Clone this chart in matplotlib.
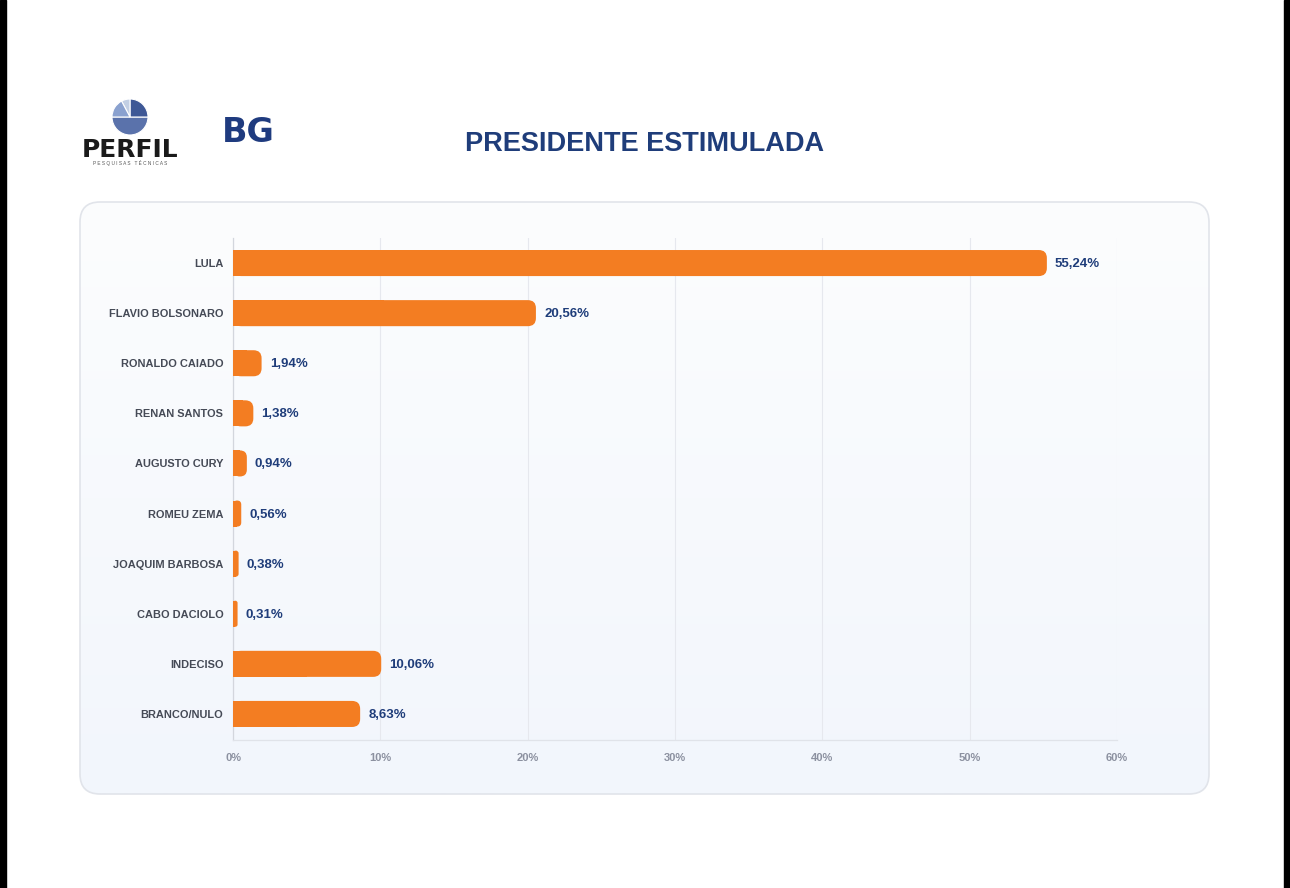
import matplotlib
matplotlib.use('Agg')
import matplotlib.pyplot as plt
from matplotlib.patches import FancyBboxPatch, Wedge, Rectangle
import numpy as np

# data
candidates = ['LULA', 'FLAVIO BOLSONARO', 'RONALDO CAIADO', 'RENAN SANTOS',
              'AUGUSTO CURY', 'ROMEU ZEMA', 'JOAQUIM BARBOSA', 'CABO DACIOLO',
              'INDECISO', 'BRANCO/NULO']
percent = [55.24, 20.56, 1.94, 1.38, 0.94, 0.56, 0.38, 0.31, 10.06, 8.63]
x_ticks = [0, 10, 20, 30, 40, 50, 60]

title = 'PRESIDENTE ESTIMULADA'

ORANGE = '#f37d22'
NAVY = '#1f3d7a'
LABEL_GRAY = '#454a56'
TICK_GRAY = '#8c91a0'

plt.rcParams['font.family'] = ['Liberation Sans', 'DejaVu Sans']

W, H = 1290, 888
fig = plt.figure(figsize=(W / 100, H / 100), dpi=100)
fig.patch.set_facecolor('white')

# background layer in pixel coordinates (y measured from the top)
bg = fig.add_axes([0, 0, 1, 1])
bg.set_xlim(0, W)
bg.set_ylim(0, H)
bg.axis('off')


def Y(py):
    return H - py


# card with soft vertical gradient
card = FancyBboxPatch((80, Y(794)), 1129, 592,
                      boxstyle='round,pad=0,rounding_size=20',
                      facecolor='none', edgecolor='#e1e4ea', linewidth=1.2, zorder=3)
bg.add_patch(card)
grad = np.linspace(0, 1, 256).reshape(-1, 1)
cmap = matplotlib.colors.LinearSegmentedColormap.from_list('card', ['#f2f6fc', '#fcfdfe'])
im = bg.imshow(grad, extent=[80, 1209, Y(794), Y(202)], origin='lower',
               cmap=cmap, aspect='auto', zorder=1)
clip = FancyBboxPatch((80, Y(794)), 1129, 592,
                      boxstyle='round,pad=0,rounding_size=20',
                      facecolor='none', edgecolor='none', transform=bg.transData)
im.set_clip_path(clip)
bg.set_xlim(0, W)
bg.set_ylim(0, H)

# black screen edges
bg.add_patch(Rectangle((0, 0), 6, H, color='black', zorder=5))
bg.add_patch(Rectangle((1284, 0), 6, H, color='black', zorder=5))

# PERFIL logo
cx, cy, r = 130, Y(117), 18
for t1, t2, c in [(180, 360, '#5a72ab'), (0, 90, '#3e5896'),
                  (90, 118, '#c2cfe4'), (118, 180, '#8aa1cf')]:
    bg.add_patch(Wedge((cx, cy), r, t1, t2, facecolor=c, edgecolor='white',
                       linewidth=0.8, zorder=4))
bg.text(130.5, Y(150), 'PERFIL', ha='center', va='center', fontsize=18,
        fontweight='bold', color='#1a1a1a', family='DejaVu Sans', zorder=4)
bg.text(130, Y(162.5), 'P E S Q U I S A S   T É C N I C A S', ha='center', va='center',
        fontsize=3.4, color='#555555', zorder=4)

# BG logo
bg.text(248, Y(132), 'BG', ha='center', va='center', fontsize=24,
        fontweight='bold', color='#1f3b7f', family='DejaVu Sans', zorder=4)

fig.text(645 / W, 1 - 144 / H, title, ha='center', va='center', fontsize=19.5,
         fontweight='bold', color=NAVY)

# main chart
ax = fig.add_axes([233 / W, 1 - 740 / H, (1117 - 233) / W, (740 - 238) / H])
ax.set_facecolor('none')

bar_h = 0.52
pos = np.arange(len(candidates))
for i, v in zip(pos, percent):
    rr = min(0.55, v / 2)
    ax.add_patch(FancyBboxPatch((0, i - bar_h / 2), v, bar_h,
                                boxstyle='round,pad=0,rounding_size=%f' % rr,
                                mutation_aspect=0.29, facecolor=ORANGE,
                                edgecolor='none', zorder=3))
    ax.barh(i, v / 2, height=bar_h, color=ORANGE, linewidth=0, zorder=3)
    ax.text(v + 0.55, i + 0.02, ('%.2f%%' % v).replace('.', ','), va='center', ha='left',
            fontsize=9.5, fontweight='bold', color=NAVY, zorder=4)

ax.set_xlim(0, 60)
ax.set_ylim(len(candidates) - 0.48, -0.5)
ax.set_xticks(x_ticks)
ax.set_xticklabels(['%d%%' % t for t in x_ticks])
ax.set_yticks(pos)
ax.set_yticklabels(candidates)
for lab in ax.get_yticklabels():
    lab.set_fontweight('bold')
for lab in ax.get_xticklabels():
    lab.set_fontweight('semibold')
ax.tick_params(axis='y', length=0, pad=7, labelsize=7.9, labelcolor=LABEL_GRAY)
ax.tick_params(axis='x', length=0, pad=9, labelsize=8, labelcolor=TICK_GRAY)

ax.grid(axis='x', color='#e6e8ee', linewidth=0.8, zorder=0)
ax.set_axisbelow(True)
for s in ['top', 'right']:
    ax.spines[s].set_visible(False)
ax.spines['left'].set_color('#d3d6dd')
ax.spines['bottom'].set_color('#e0e3e9')
ax.spines['left'].set_linewidth(0.9)
ax.spines['bottom'].set_linewidth(0.9)

fig.savefig('out.png', dpi=100)
